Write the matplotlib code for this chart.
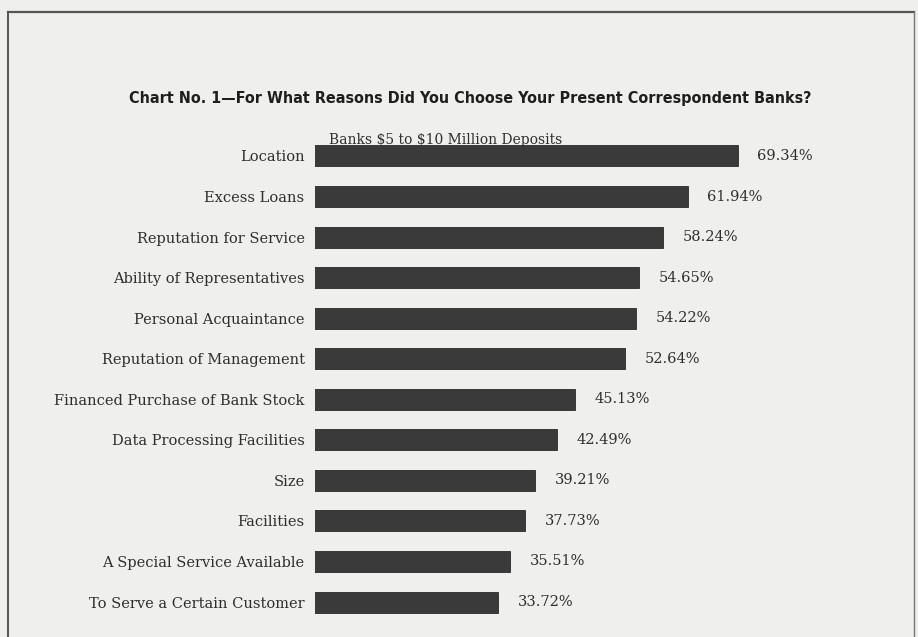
import matplotlib.pyplot as plt
from matplotlib.lines import Line2D

# data
reasons = [
    "Location",
    "Excess Loans",
    "Reputation for Service",
    "Ability of Representatives",
    "Personal Acquaintance",
    "Reputation of Management",
    "Financed Purchase of Bank Stock",
    "Data Processing Facilities",
    "Size",
    "Facilities",
    "A Special Service Available",
    "To Serve a Certain Customer",
]
percents = [69.34, 61.94, 58.24, 54.65, 54.22, 52.64, 45.13, 42.49, 39.21, 37.73, 35.51, 33.72]

title = "Chart No. 1\u2014For What Reasons Did You Choose Your Present Correspondent Banks?"
subtitle = r"Banks \$5 to \$10 Million Deposits"

W, H = 918, 637
bg = "#efefed"
ink = "#2e2e2e"

fig = plt.figure(figsize=(W / 100, H / 100), dpi=100, facecolor=bg)

# axes placed so the bars line up with the scanned page
ax = fig.add_axes([315 / W, 9 / H, 585 / W, 498 / H])
ax.set_facecolor(bg)

ypos = list(range(len(reasons)))
ax.barh(ypos, percents, height=0.52, color="#3a3a3a", edgecolor="#2a2a2a", linewidth=0.6)

ax.set_xlim(6.45, 6.45 + 585 / 6.72)
ax.set_ylim(11.64, -0.64)

ax.set_yticks(ypos)
ax.set_yticklabels(reasons, family="DejaVu Serif", fontsize=10.5, color=ink)
ax.tick_params(axis="y", length=0, pad=7.5)
ax.set_xticks([])
for s in ax.spines.values():
    s.set_visible(False)

for y, v in zip(ypos, percents):
    ax.annotate(f"{v:.2f}%", xy=(v, y), xytext=(14, 0), textcoords="offset points",
                va="center", ha="left", family="DejaVu Serif", fontsize=10.5, color=ink)

fig.text(470 / W, 1 - 98 / H, title, ha="center", va="center",
         family="DejaVu Sans", fontstretch="condensed", fontweight="bold",
         fontsize=11.5, color="#1e1e1e")
fig.text(446 / W, 1 - 140 / H, subtitle, ha="center", va="center",
         family="DejaVu Serif", fontsize=10, color=ink)

# page frame
fig.add_artist(Line2D([8 / W, 914 / W], [1 - 12 / H, 1 - 12 / H], color="#555555", lw=1.6))
fig.add_artist(Line2D([8 / W, 8 / W], [0, 1 - 12 / H], color="#555555", lw=1.4))
fig.add_artist(Line2D([914 / W, 914 / W], [0, 1 - 12 / H], color="#777777", lw=1.0))

fig.savefig("out.png", dpi=100, facecolor=bg)
